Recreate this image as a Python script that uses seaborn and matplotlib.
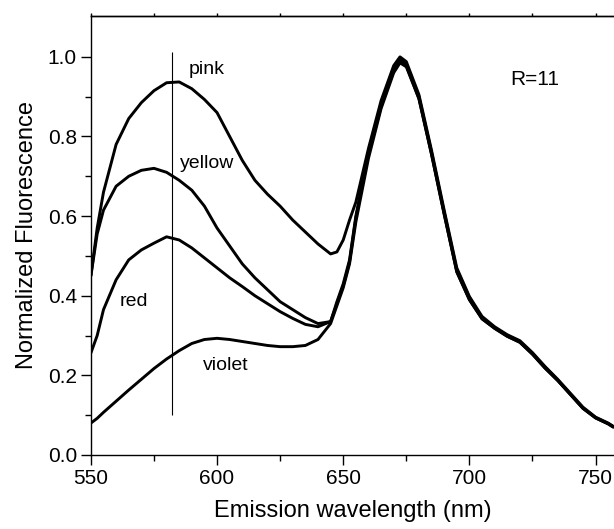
import numpy as np
import pandas as pd
from matplotlib import pyplot as plt
import seaborn as sns

# wavelengths (nm) shared by all four spectra
wavelength = [550, 552.5, 555, 560, 565, 570, 575, 580, 585, 590, 595, 600,
              605, 610, 615, 620, 625, 630, 635, 640, 645, 647.5, 650, 652.5,
              655, 660, 665, 670, 672.5, 675, 680, 685, 690, 695, 700, 705,
              710, 715, 720, 725, 730, 735, 740, 745, 750, 755, 757]

pink = [0.45, 0.57, 0.66, 0.78, 0.845, 0.885, 0.915, 0.935, 0.937, 0.92, 0.893, 0.86,
        0.80, 0.74, 0.69, 0.655, 0.625, 0.59, 0.56, 0.53, 0.505, 0.51, 0.54, 0.59,
        0.635, 0.77, 0.89, 0.978, 1.0, 0.988, 0.905, 0.765, 0.615, 0.47, 0.398, 0.348,
        0.322, 0.302, 0.287, 0.257, 0.222, 0.19, 0.155, 0.12, 0.095, 0.08, 0.072]

yellow = [0.45, 0.555, 0.615, 0.675, 0.70, 0.715, 0.72, 0.71, 0.69, 0.665, 0.625, 0.57,
          0.525, 0.48, 0.445, 0.415, 0.385, 0.365, 0.345, 0.33, 0.335, 0.385, 0.43, 0.49,
          0.60, 0.76, 0.88, 0.97, 0.995, 0.982, 0.90, 0.76, 0.61, 0.465, 0.395, 0.345,
          0.32, 0.30, 0.285, 0.255, 0.22, 0.188, 0.153, 0.118, 0.094, 0.079, 0.071]

red = [0.256, 0.30, 0.365, 0.44, 0.49, 0.515, 0.532, 0.548, 0.54, 0.52, 0.495, 0.47,
       0.445, 0.423, 0.40, 0.38, 0.36, 0.343, 0.328, 0.322, 0.335, 0.38, 0.425, 0.485,
       0.595, 0.755, 0.875, 0.965, 0.99, 0.978, 0.895, 0.755, 0.605, 0.46, 0.39, 0.342,
       0.318, 0.298, 0.283, 0.253, 0.218, 0.187, 0.152, 0.117, 0.093, 0.078, 0.07]

violet = [0.08, 0.092, 0.107, 0.135, 0.163, 0.19, 0.217, 0.241, 0.262, 0.28, 0.29, 0.293,
          0.29, 0.285, 0.28, 0.275, 0.272, 0.272, 0.275, 0.29, 0.33, 0.375, 0.42, 0.48,
          0.585, 0.745, 0.87, 0.96, 0.985, 0.975, 0.895, 0.755, 0.605, 0.46, 0.39, 0.342,
          0.318, 0.298, 0.283, 0.253, 0.218, 0.187, 0.152, 0.117, 0.093, 0.078, 0.07]

x_ticks = [550, 600, 650, 700, 750]
y_ticks = [0.0, 0.2, 0.4, 0.6, 0.8, 1.0]


def main():
    sns.set_theme(style='ticks')
    plt.rcParams['font.family'] = ['Liberation Sans', 'DejaVu Sans']
    plt.rcParams['text.color'] = 'black'
    plt.rcParams['axes.labelcolor'] = 'black'
    plt.rcParams['xtick.color'] = 'black'
    plt.rcParams['ytick.color'] = 'black'

    df = pd.concat([
        pd.DataFrame({'wl': wavelength, 'f': v, 'sample': name})
        for name, v in [('pink', pink), ('yellow', yellow), ('red', red), ('violet', violet)]
    ])

    fig = plt.figure(figsize=(6.14, 5.29), dpi=100)
    ax = fig.add_axes([0.148, 0.140, 0.852, 0.830])

    sns.lineplot(data=df, x='wl', y='f', hue='sample', estimator=None,
                 palette=['black'] * 4, legend=False, linewidth=2.1, ax=ax)

    # marker line at 582 nm
    ax.vlines(582, 0.10, 1.012, color='black', linewidth=0.8)

    # curve labels
    ax.text(588.9, 0.957, 'pink', fontsize=14)
    ax.text(585.3, 0.721, 'yellow', fontsize=14)
    ax.text(561.5, 0.373, 'red', fontsize=14)
    ax.text(594.4, 0.214, 'violet', fontsize=14)
    ax.text(716, 0.93, 'R=11', fontsize=15)

    ax.set_xlim(550, 757.3)
    ax.set_ylim(0, 1.103)
    ax.set_xticks(x_ticks)
    ax.set_xticks(np.arange(575, 760, 50), minor=True)
    ax.set_yticks(y_ticks)
    ax.set_yticks(np.arange(0.1, 1.1, 0.2), minor=True)
    ax.set_yticklabels([f'{t:.1f}' for t in y_ticks])
    ax.tick_params(which='major', length=7, width=1.0, labelsize=15, color='black',
                   labelcolor='black', pad=3)
    ax.tick_params(which='minor', length=4, width=1.0, color='black')

    top = ax.secondary_xaxis('top')
    top.set_xticks(np.arange(550, 760, 25))
    top.tick_params(length=2, width=1.0, labeltop=False, color='black')
    top.spines['top'].set_linewidth(1.0)
    top.spines['top'].set_color('black')

    for side in ['left', 'bottom', 'top']:
        ax.spines[side].set_linewidth(1.0)
        ax.spines[side].set_color('black')
    ax.spines['right'].set_visible(False)

    ax.set_xlabel('Emission wavelength (nm)', fontsize=17, labelpad=9)
    ax.set_ylabel('Normalized Fluorescence', fontsize=17, labelpad=7)

    fig.savefig('out.png', dpi=100)


if __name__ == "__main__":
    main()
